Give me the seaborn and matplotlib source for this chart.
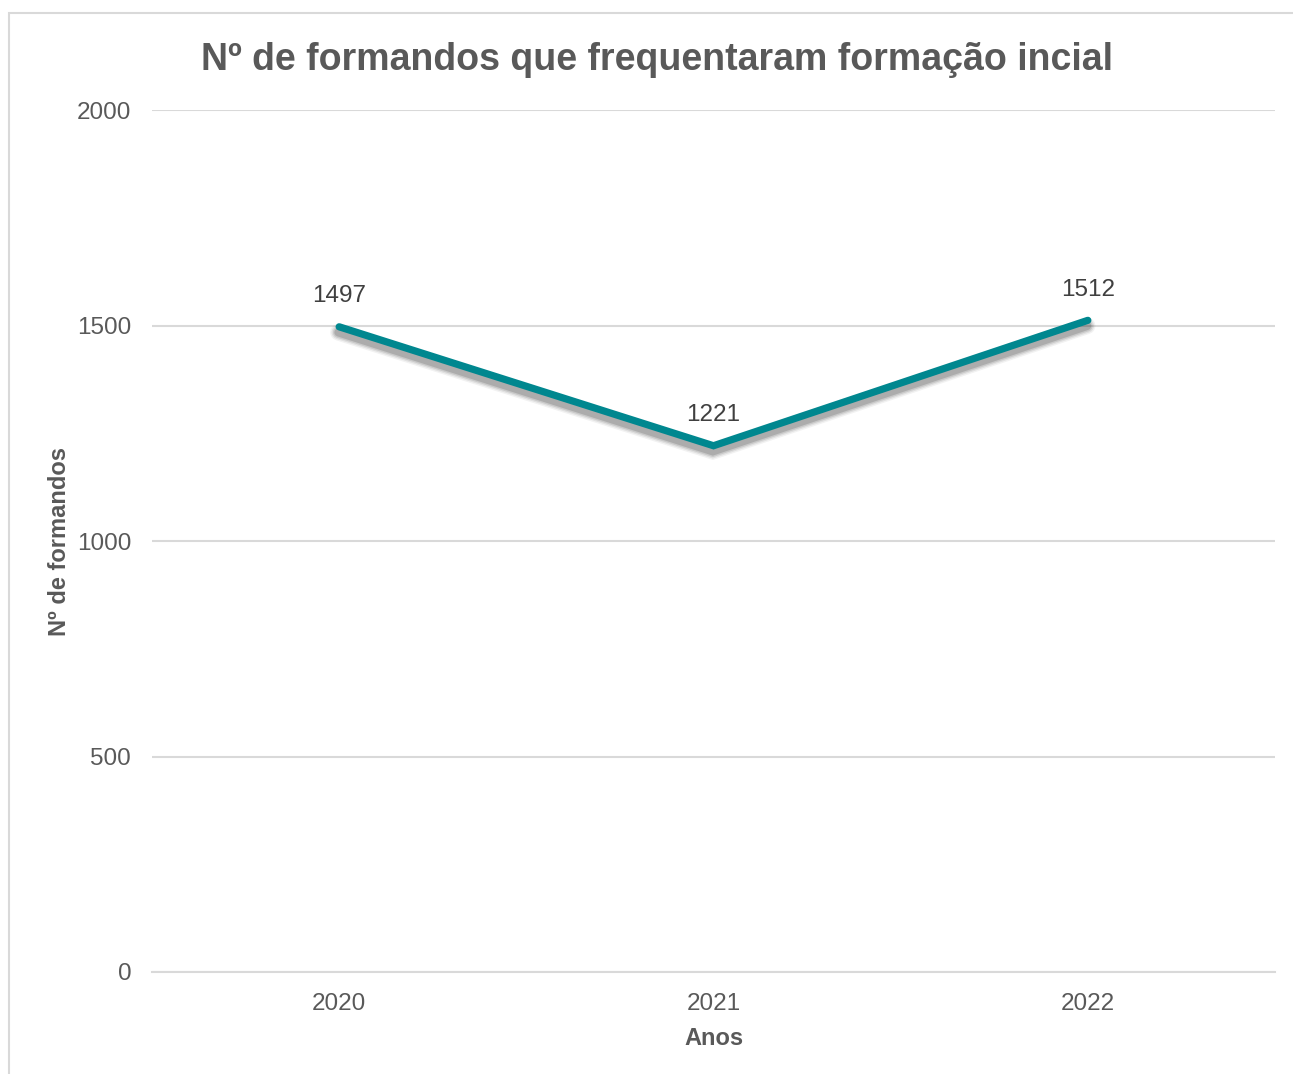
import matplotlib
matplotlib.use("Agg")
import matplotlib.pyplot as plt
import matplotlib.patheffects as pe
from matplotlib.patches import Rectangle
import seaborn as sns
import pandas as pd

anos = ["2020", "2021", "2022"]
formandos = [1497, 1221, 1512]
y_ticks = [0, 500, 1000, 1500, 2000]

titulo = "Nº de formandos que frequentaram formação incial"
eixo_x = "Anos"
eixo_y = "Nº de formandos"

sns.set_theme(style="white")
plt.rcParams["font.family"] = ["Liberation Sans", "DejaVu Sans"]

TEXT = "#595959"
GRID = "#D9D9D9"
LINE = "#00878F"

df = pd.DataFrame({"Ano": anos, "Formandos": formandos})

fig = plt.figure(figsize=(12.93, 10.74), dpi=100)
ax = fig.add_axes([152 / 1293, 1 - 972 / 1074, (1275 - 152) / 1293, (972 - 110) / 1074])

# outer chart frame
fig.patches.append(Rectangle((9 / 1293, -0.05), 1.2, 1 - 13 / 1074 + 0.05,
                             transform=fig.transFigure, fill=False,
                             edgecolor="#D9D9D9", linewidth=1.5, zorder=0))

# soft blurred shadow under the line
shadow = [pe.SimpleLineShadow(offset=(-0.5, -4), shadow_color="#000000",
                              alpha=a, linewidth=w)
          for w, a in [(12, 0.05), (10, 0.07), (8, 0.1), (6, 0.14)]]
sns.lineplot(data=df, x="Ano", y="Formandos", ax=ax, color=LINE, linewidth=5.2,
             sort=False, solid_capstyle="round", solid_joinstyle="miter",
             path_effects=shadow + [pe.Normal()], zorder=3)

ax.set_xlim(-0.5, 2.5)
ax.set_ylim(0, 2000)
ax.set_yticks(y_ticks)
ax.set_yticklabels([str(v) for v in y_ticks])
ax.yaxis.grid(True, color=GRID, linewidth=1.5)
ax.xaxis.grid(False)
for s in ["top", "right", "left"]:
    ax.spines[s].set_visible(False)
ax.spines["bottom"].set_color(GRID)
ax.spines["bottom"].set_linewidth(1.5)
ax.tick_params(axis="y", length=0, pad=15, labelsize=17.5, labelcolor=TEXT)
ax.tick_params(axis="x", length=0, pad=15, labelsize=17.5, labelcolor=TEXT)

for i, v in enumerate(formandos):
    ax.annotate(str(v), (i, v), xytext=(0, 14), textcoords="offset points",
                ha="center", va="bottom", fontsize=17.5, color="#404040")

ax.set_xlabel(eixo_x, fontsize=17, fontweight="bold", color=TEXT, labelpad=9)
ax.set_ylabel(eixo_y, fontsize=17, fontweight="bold", color=TEXT, labelpad=4)
fig.text(657 / 1293, 1 - 60 / 1074, titulo, ha="center", va="center",
         fontsize=27, fontweight="bold", color=TEXT)

fig.savefig("out.png", dpi=100, facecolor="white")
